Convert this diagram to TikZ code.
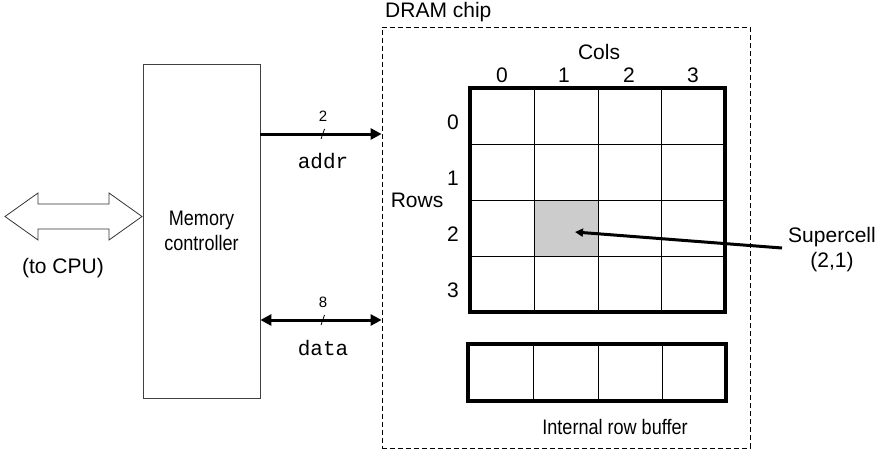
\documentclass[tikz,border=0pt]{standalone}
\usepackage{fontspec}
\setmainfont{Liberation Sans}
\setmonofont{Liberation Mono}
\newfontfamily\narrowsans[FakeStretch=0.86]{Liberation Sans}
\usetikzlibrary{arrows.meta}
\begin{document}
\begin{tikzpicture}[x=1pt,y=-1pt,
  lbl/.style={font=\fontsize{21}{25}\selectfont, inner sep=0pt},
  nlbl/.style={font=\narrowsans\fontsize{21}{25}\selectfont, inner sep=0pt},
  small/.style={font=\fontsize{15}{17}\selectfont, inner sep=0pt},
  mono/.style={font=\ttfamily\fontsize{21}{24}\selectfont, inner sep=0pt},
  thin/.style={line width=0.8pt},
  thick border/.style={line width=3.5pt},
  bus/.style={line width=3pt},
  bigtip/.tip={Triangle[length=11pt,width=11pt]},
  smalltip/.tip={Triangle[length=8pt,width=8pt]}]
\useasboundingbox (0,0) rectangle (885,460);

% memory controller
\node[draw=black!75, thin, minimum width=117pt, minimum height=334pt, inner sep=0pt,
      nlbl, align=center] (mc) at (201.5,231) {Memory\\controller};

% hollow double arrow to CPU
\draw[thin, black!80] (5,216.5) -- (38,193) -- (38,204) -- (109,204) -- (109,193)
   -- (142,216.5) -- (109,240) -- (109,229) -- (38,229) -- (38,240) -- cycle;
\node[lbl] (cpu) at (63,268) {(to CPU)};

% DRAM chip
\node[draw, line width=0.8pt, dash pattern=on 5pt off 3pt, minimum width=368pt,
      minimum height=421pt, inner sep=0pt] (dram) at (566,237.5) {};
\node[lbl, anchor=west] (dramlbl) at (385,12) {DRAM chip};

% buses
\coordinate (a1) at (mc.east |- 0,134);
\coordinate (a2) at (dram.west |- 0,134);
\draw[bus, -{bigtip}] (a1) -- (a2);
\draw[thin] (321,139) -- (324.5,129);
\node[small] (two) at (323,116) {2};
\node[mono] (addr) at (323,161) {addr};

\coordinate (d1) at (mc.east |- 0,320);
\coordinate (d2) at (dram.west |- 0,320);
\draw[bus, {bigtip}-{bigtip}] (d1) -- (d2);
\draw[thin] (321,325) -- (324.5,315);
\node[small] (eight) at (323,302) {8};
\node[mono] (data) at (323,348) {data};

% supercell array
\node[fill=black!20, minimum width=64pt, minimum height=56pt, inner sep=0pt] (sc) at (566,228) {};
\foreach \x in {534,598,661} \draw[thin] (\x,88) -- (\x,312);
\foreach \y in {144,200,256} \draw[thin] (470,\y) -- (725,\y);
\node[draw, thick border, minimum width=255pt, minimum height=224pt, inner sep=0pt] (array) at (597.5,200) {};

\node[lbl] (cols) at (599,52) {Cols};
\node[lbl] (c0) at (502,75) {0};
\node[lbl] (c1) at (564,75) {1};
\node[lbl] (c2) at (629,75) {2};
\node[lbl] (c3) at (693,75) {3};
\node[lbl] (rows) at (417,200) {Rows};
\node[lbl] (r0) at (453,122) {0};
\node[lbl] (r1) at (453,178) {1};
\node[lbl] (r2) at (453,234) {2};
\node[lbl] (r3) at (453,290) {3};

% supercell label
\node[lbl, align=center] (sclbl) at (832,250) {Supercell\\(2,1)};
\coordinate (sctail) at (782,248);
\coordinate (schead) at (575,232);
\draw[bus, -{smalltip}] (sctail) -- (schead);

% row buffer
\foreach \x in {533,598,662} \draw[thin] (\x,344) -- (\x,401);
\node[draw, thick border, minimum width=258pt, minimum height=57pt, inner sep=0pt] (buf) at (597,372.5) {};
\node[nlbl] (buflbl) at (615,427) {Internal row buffer};
\end{tikzpicture}
\end{document}
